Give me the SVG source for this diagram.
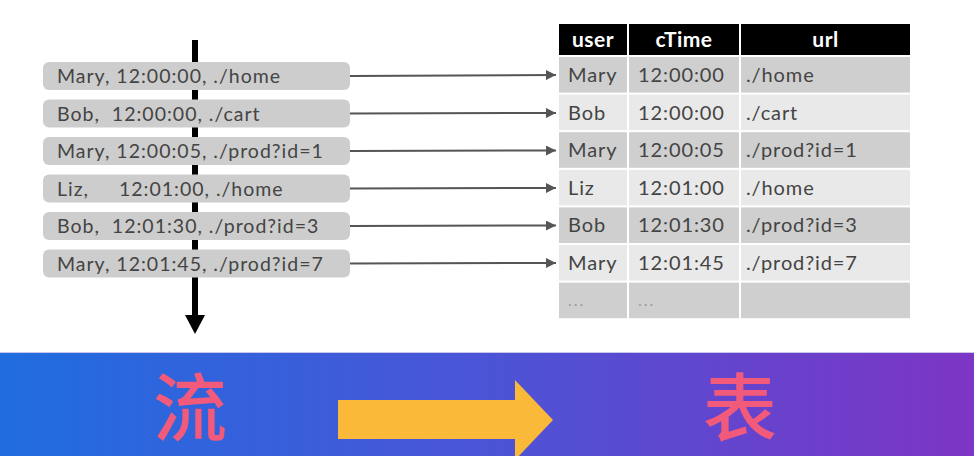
<svg xmlns="http://www.w3.org/2000/svg" width="974" height="456" viewBox="0 0 974 456">
<defs>
<linearGradient id="band" x1="0" y1="0" x2="1" y2="0">
<stop offset="0" stop-color="#1f6de0"/>
<stop offset="0.5" stop-color="#4b54d6"/>
<stop offset="1" stop-color="#7d35c5"/>
</linearGradient>
<marker id="ah" viewBox="0 0 10 10" refX="10" refY="5" markerWidth="5" markerHeight="5" orient="auto" markerUnits="strokeWidth">
<path d="M0,0 L10,5 L0,10 z" fill="#555"/>
</marker>
</defs>
<style>
.ev{fill:#cdcdcd}
.et{font-family:Lato,"Open Sans","Liberation Sans",sans-serif;font-size:19.5px;letter-spacing:1px;fill:#444}
.hd{fill:#000}
.ht{font-family:Lato,"Open Sans","Liberation Sans",sans-serif;font-size:21px;letter-spacing:0.5px;font-weight:bold;fill:#fff;text-anchor:middle}
.dk{fill:#cfcfcf}
.lt{fill:#e9e9e9}
.ct{font-family:Lato,"Open Sans","Liberation Sans",sans-serif;font-size:20px;letter-spacing:0.9px;fill:#444}
.dots{font-family:Lato,"Open Sans","Liberation Sans",sans-serif;font-size:16px;letter-spacing:2px;fill:#999}
.conn{stroke:#555;stroke-width:2;fill:none;marker-end:url(#ah)}
.cjk{font-family:"Noto Sans CJK SC","Noto Sans CJK JP",sans-serif;font-size:74px;font-weight:500;fill:#f15a7a;text-anchor:middle}
</style>
<rect width="974" height="456" fill="#fff"/>

<!-- time axis -->
<g id="timeline">
<rect x="192" y="40" width="6" height="276" fill="#000"/>
<path d="M185,315 L205,315 L195,334 z" fill="#000"/>
</g>

<!-- stream events -->
<g id="ev1"><rect class="ev" x="43" y="62" width="307" height="28" rx="6"/><text class="et" x="57" y="83" xml:space="preserve">Mary, 12:00:00, ./home</text></g>
<g id="ev2"><rect class="ev" x="43" y="99.5" width="307" height="28" rx="6"/><text class="et" x="57" y="120.5" xml:space="preserve">Bob,  12:00:00, ./cart</text></g>
<g id="ev3"><rect class="ev" x="43" y="137" width="307" height="28" rx="6"/><text class="et" x="57" y="158" xml:space="preserve">Mary, 12:00:05, ./prod?id=1</text></g>
<g id="ev4"><rect class="ev" x="43" y="174.5" width="307" height="28" rx="6"/><text class="et" x="57" y="195.5" xml:space="preserve">Liz,     12:01:00, ./home</text></g>
<g id="ev5"><rect class="ev" x="43" y="212" width="307" height="28" rx="6"/><text class="et" x="57" y="233" xml:space="preserve">Bob,  12:01:30, ./prod?id=3</text></g>
<g id="ev6"><rect class="ev" x="43" y="249.5" width="307" height="28" rx="6"/><text class="et" x="57" y="270.5" xml:space="preserve">Mary, 12:01:45, ./prod?id=7</text></g>

<!-- connectors -->
<g id="connectors">
<line class="conn" x1="350" y1="76" x2="556" y2="75"/>
<line class="conn" x1="350" y1="113.5" x2="556" y2="113"/>
<line class="conn" x1="350" y1="151" x2="556" y2="150.5"/>
<line class="conn" x1="350" y1="188.5" x2="556" y2="188"/>
<line class="conn" x1="350" y1="226" x2="556" y2="225.5"/>
<line class="conn" x1="350" y1="263.5" x2="556" y2="263"/>
</g>

<!-- table -->
<g id="table">
<rect class="hd" x="559" y="24" width="68" height="31"/>
<rect class="hd" x="629" y="24" width="110" height="31"/>
<rect class="hd" x="741" y="24" width="169" height="31"/>
<text class="ht" x="593" y="47">user</text>
<text class="ht" x="684" y="47">cTime</text>
<text class="ht" x="825.5" y="47">url</text>

<g id="row1"><rect class="dk" x="559" y="57" width="68" height="35.6"/><rect class="dk" x="629" y="57" width="110" height="35.6"/><rect class="dk" x="741" y="57" width="169" height="35.6"/>
<text class="ct" x="568" y="82">Mary</text><text class="ct" x="638" y="82">12:00:00</text><text class="ct" x="746" y="82">./home</text></g>
<g id="row2"><rect class="lt" x="559" y="94.6" width="68" height="35.6"/><rect class="lt" x="629" y="94.6" width="110" height="35.6"/><rect class="lt" x="741" y="94.6" width="169" height="35.6"/>
<text class="ct" x="568" y="119.6">Bob</text><text class="ct" x="638" y="119.6">12:00:00</text><text class="ct" x="746" y="119.6">./cart</text></g>
<g id="row3"><rect class="dk" x="559" y="132.2" width="68" height="35.6"/><rect class="dk" x="629" y="132.2" width="110" height="35.6"/><rect class="dk" x="741" y="132.2" width="169" height="35.6"/>
<text class="ct" x="568" y="157.2">Mary</text><text class="ct" x="638" y="157.2">12:00:05</text><text class="ct" x="746" y="157.2">./prod?id=1</text></g>
<g id="row4"><rect class="lt" x="559" y="169.8" width="68" height="35.6"/><rect class="lt" x="629" y="169.8" width="110" height="35.6"/><rect class="lt" x="741" y="169.8" width="169" height="35.6"/>
<text class="ct" x="568" y="194.8">Liz</text><text class="ct" x="638" y="194.8">12:01:00</text><text class="ct" x="746" y="194.8">./home</text></g>
<g id="row5"><rect class="dk" x="559" y="207.4" width="68" height="35.6"/><rect class="dk" x="629" y="207.4" width="110" height="35.6"/><rect class="dk" x="741" y="207.4" width="169" height="35.6"/>
<text class="ct" x="568" y="232.4">Bob</text><text class="ct" x="638" y="232.4">12:01:30</text><text class="ct" x="746" y="232.4">./prod?id=3</text></g>
<g id="row6"><rect class="lt" x="559" y="245" width="68" height="35.6"/><rect class="lt" x="629" y="245" width="110" height="35.6"/><rect class="lt" x="741" y="245" width="169" height="35.6"/>
<text class="ct" x="568" y="270">Mary</text><text class="ct" x="638" y="270">12:01:45</text><text class="ct" x="746" y="270">./prod?id=7</text></g>
<g id="row7"><rect class="dk" x="559" y="282.6" width="68" height="35.6"/><rect class="dk" x="629" y="282.6" width="110" height="35.6"/><rect class="dk" x="741" y="282.6" width="169" height="35.6"/>
<text class="dots" x="568" y="306">...</text><text class="dots" x="638" y="306">...</text></g>
</g>

<!-- bottom band -->
<g id="band-group">
<rect x="0" y="352" width="974" height="104" fill="url(#band)"/>
<line x1="0" y1="352.5" x2="974" y2="352.5" stroke="#c9c6ee" stroke-width="1"/>
<text class="cjk" x="190" y="434.5">流</text>
<path d="M338,400 L515,400 L515,380 L553,420 L515,460 L515,439 L338,439 z" fill="#fbb93a"/>
<text class="cjk" x="740" y="434.5">表</text>
</g>
</svg>
